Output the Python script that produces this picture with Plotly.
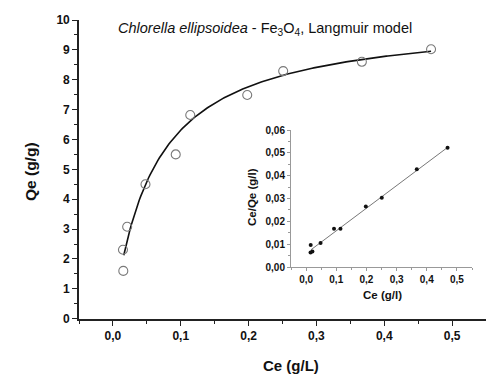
import numpy as np
import plotly.graph_objects as go

# Main data: equilibrium concentration (g/L) and uptake (g/g)
ce = [0.0153, 0.0148, 0.021, 0.048, 0.0926, 0.114, 0.198, 0.251, 0.367, 0.469]
qe = [1.60, 2.31, 3.08, 4.50, 5.50, 6.82, 7.49, 8.29, 8.60, 9.02]

# Inset data: linearised Langmuir Ce/Qe
ce_qe = [0.0096, 0.0064, 0.0068, 0.0105, 0.0167, 0.0167, 0.0265, 0.0303, 0.0428, 0.0522]

# Langmuir fit parameters
qmax = 10.1      # g/g
b_half = 0.06    # g/L (1/KL)
fit_range = [0.016, 0.469]

x_main_ticks = [0.0, 0.1, 0.2, 0.3, 0.4, 0.5]
y_main_ticks = list(range(0, 11))
x_inset_ticks = [0.0, 0.1, 0.2, 0.3, 0.4, 0.5]
y_inset_ticks = [0.0, 0.01, 0.02, 0.03, 0.04, 0.05, 0.06]

W, H = 486, 374
FONT = "Liberation Sans"

xc = np.linspace(fit_range[0], fit_range[1], 200)
qc = qmax * xc / (b_half + xc)
lin = xc / qmax + b_half / qmax

fig = go.Figure()
fig.add_trace(go.Scatter(x=xc, y=qc, mode="lines", line=dict(color="#111", width=1.6),
                         xaxis="x", yaxis="y", showlegend=False, hoverinfo="skip"))
fig.add_trace(go.Scatter(x=ce, y=qe, mode="markers",
                         marker=dict(symbol="circle-open", size=9, color="#7a7a7a", line=dict(width=1.1)),
                         xaxis="x", yaxis="y", showlegend=False))
fig.add_trace(go.Scatter(x=xc, y=lin, mode="lines", line=dict(color="#777", width=1),
                         xaxis="x2", yaxis="y2", showlegend=False, hoverinfo="skip"))
fig.add_trace(go.Scatter(x=ce, y=ce_qe, mode="markers",
                         marker=dict(symbol="circle", size=4, color="#111"),
                         xaxis="x2", yaxis="y2", showlegend=False))

main_axis = dict(showgrid=False, zeroline=False, showline=True, linecolor="#222", linewidth=1.6,
                 ticks="outside", ticklen=5, tickwidth=1.4, tickcolor="#222",
                 tickfont=dict(family=FONT, size=12, color="#111", weight="bold"))
inset_axis = dict(showgrid=False, zeroline=False, showline=True, linecolor="#999", linewidth=1,
                  ticks="outside", ticklen=3, tickwidth=1, tickcolor="#999",
                  tickfont=dict(family=FONT, size=10, color="#111", weight="bold"))

fig.update_layout(
    width=W, height=H, margin=dict(l=0, r=0, t=0, b=0, autoexpand=False),
    paper_bgcolor="white", plot_bgcolor="white", separators=", ",
    xaxis=dict(main_axis, domain=[79 / W, 1.0], range=[-0.05, 0.55], tickvals=x_main_ticks,
               tickformat=".1f",
               minor=dict(dtick=0.05, ticks="outside", ticklen=3, tickcolor="#222", tickwidth=1.2),
               anchor="y"),
    yaxis=dict(main_axis, domain=[1 - 318.7 / H, 1 - 20 / H], range=[0, 10], tickvals=y_main_ticks,
               minor=dict(dtick=0.5, ticks="outside", ticklen=3, tickcolor="#222", tickwidth=1.2),
               anchor="x"),
    xaxis2=dict(inset_axis, domain=[291 / W, 472 / W], range=[-0.05, 0.55], tickvals=x_inset_ticks,
                tickformat=".1f", minor=dict(dtick=0.05, ticks="outside", ticklen=2, tickcolor="#999"),
                anchor="y2"),
    yaxis2=dict(inset_axis, domain=[1 - 267 / H, 1 - 130 / H], range=[0, 0.06], tickvals=y_inset_ticks,
                tickformat=".2f", minor=dict(dtick=0.005, ticks="outside", ticklen=2, tickcolor="#999"),
                anchor="x2"),
)

ann = [
    dict(text="<i>Chlorella ellipsoidea</i> - Fe<sub>3</sub>O<sub>4</sub>, Langmuir model",
         x=265 / W, y=1 - 29 / H, font=dict(family=FONT, size=14.5, color="#111")),
    dict(text="<b>Qe (g/g)</b>", x=30 / W, y=1 - 172 / H, textangle=-90,
         font=dict(family=FONT, size=15.5, color="#111")),
    dict(text="<b>Ce (g/L)</b>", x=291 / W, y=1 - 365 / H,
         font=dict(family=FONT, size=15, color="#111")),
    dict(text="<b>Ce/Qe (g/l)</b>", x=252 / W, y=1 - 197 / H, textangle=-90,
         font=dict(family=FONT, size=11.5, color="#111")),
    dict(text="<b>Ce (g/l)</b>", x=382 / W, y=1 - 295 / H,
         font=dict(family=FONT, size=11.5, color="#111")),
]
for a in ann:
    fig.add_annotation(xref="paper", yref="paper", showarrow=False, xanchor="center", yanchor="middle", **a)

fig.write_html("out.html")
